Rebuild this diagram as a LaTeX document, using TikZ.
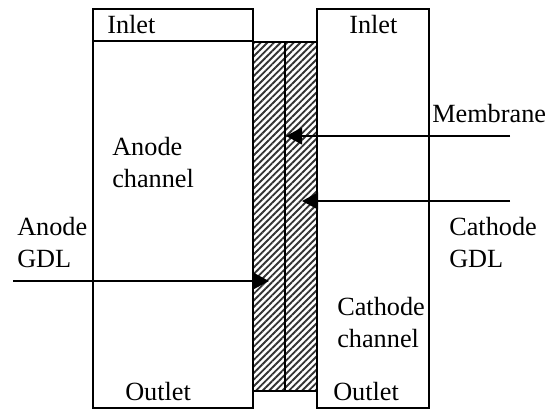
\documentclass[tikz,border=0pt]{standalone}
\usepackage{fontspec}
\setmainfont{Liberation Serif}
\usetikzlibrary{arrows.meta,patterns.meta}

\begin{document}
\begin{tikzpicture}[
  x=0.75pt,y=-0.75pt,
  box/.style={draw=black,line width=1.5pt,inner sep=0pt,outer sep=0pt,anchor=north west},
  hatched/.style={box,pattern={Lines[angle=45,distance=3.5pt,line width=1.4pt]},pattern color=black!80},
  lbl/.style={inner sep=0pt,anchor=base west,align=left,font=\fontsize{19.7}{24}\selectfont},
  arr/.style={-{Triangle[length=12pt,width=12.5pt]},line width=1.5pt}]
\useasboundingbox (0,0) rectangle (555,409);
\node[box,minimum width=120pt,minimum height=24pt] (anodein) at (93,9) {};
\node[box,minimum width=120pt,minimum height=275.25pt] (anode) at (93,41) {};
\node[box,minimum width=84pt,minimum height=299.25pt] (cathode) at (317,9) {};
\node[hatched,minimum width=24pt,minimum height=261.75pt] (gdla) at (253,42) {};
\node[hatched,minimum width=24pt,minimum height=261.75pt] (gdlc) at (285,42) {};
\node[lbl] (inleta) at (107,34) {Inlet};
\node[lbl] (inletc) at (349,34) {Inlet};
\node[lbl] (outleta) at (125,400) {Outlet};
\node[lbl] (outletc) at (333,400) {Outlet};
\node[lbl] (chana) at (112,188) {Anode\\channel};
\node[lbl] (chanc) at (337,347) {Cathode\\channel};
\node[lbl] (gdllabela) at (17,267) {Anode\\GDL};
\node[lbl] (gdllabelc) at (449,267) {Cathode\\GDL};
\node[lbl] (memlabel) at (432,123) {Membrane};
\coordinate (mstart) at (510,136);
\coordinate (mtip) at (286,136);
\coordinate (cstart) at (510,201);
\coordinate (ctip) at (302,201);
\coordinate (astart) at (13,281);
\coordinate (atip) at (269,281);
\draw[arr] (mstart)--(mtip);
\draw[arr] (cstart)--(ctip);
\draw[arr] (astart)--(atip);
\end{tikzpicture}
\end{document}
